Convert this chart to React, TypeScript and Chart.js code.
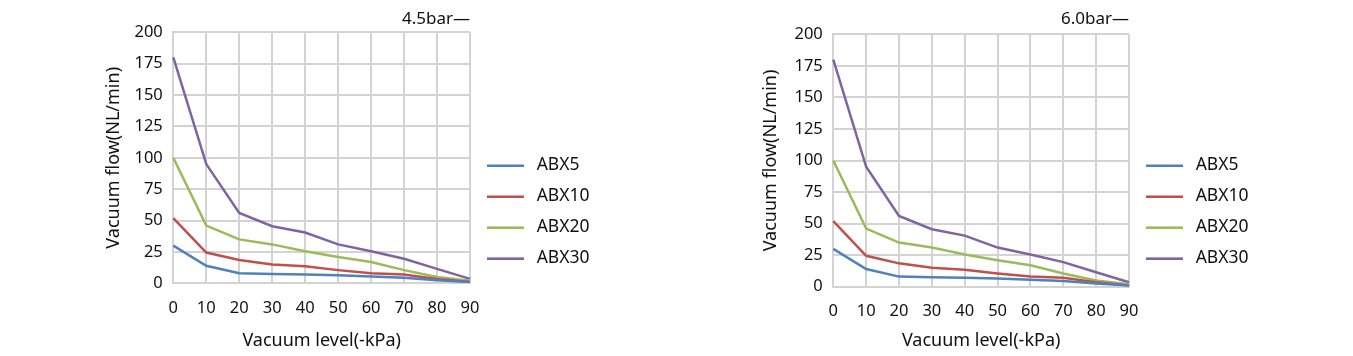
import React, { useEffect, useRef } from "react";
import { Chart, registerables } from "chart.js";

Chart.register(...registerables);

const categories = ["0", "10", "20", "30", "40", "50", "60", "70", "80", "90"];
const seriesNames = ["ABX5", "ABX10", "ABX20", "ABX30"];
const abx5 = [30, 14, 8, 7.5, 7, 6.5, 5.5, 4.5, 2.5, 1];
const abx10 = [52, 24.5, 18.5, 15, 13.5, 10.5, 8, 7, 3.5, 1];
const abx20 = [100, 46, 35, 31, 25.5, 21, 17, 10.5, 5, 2];
const abx30 = [180, 95, 56, 45.5, 40.5, 31, 25.5, 19.5, 11.5, 3.5];
const seriesColors = ["#4F81BD", "#C0504D", "#9BBB59", "#8064A2"];
const chartTitles = ["4.5bar\u2014", "6.0bar\u2014"];
const xTitle = "Vacuum level(-kPa)";
const yTitle = "Vacuum flow(NL/min)";

const FONT = "'Noto Sans', 'DejaVu Sans', sans-serif";
const TEXT = "#111111";
const GRID = "#d3d3d3";

type Geo = {
  canvasLeft: number;
  canvasWidth: number;
  areaLeft: number;
  areaRight: number;
  areaTop: number;
  areaBottom: number;
  yTitleX: number;
  titlePadTop: number;
};

const H = 356;

const geos: Geo[] = [
  { canvasLeft: 0, canvasWidth: 676, areaLeft: 173.3, areaRight: 470, areaTop: 32.3, areaBottom: 283.3, yTitleX: 114, titlePadTop: 8.5 },
  { canvasLeft: 676, canvasWidth: 677, areaLeft: 157.3, areaRight: 453, areaTop: 34.3, areaBottom: 286.7, yTitleX: 94.7, titlePadTop: 9 },
];

function swatch(color: string) {
  const c = document.createElement("canvas");
  c.width = 37;
  c.height = 3;
  const g = c.getContext("2d")!;
  g.fillStyle = color;
  g.fillRect(0, 0.5, 37, 2.5);
  return c;
}

function buildConfig(idx: number): any {
  const g = geos[idx];
  const values = [abx5, abx10, abx20, abx30];
  const legendFont = 17.5;
  const legendPad = 13.4;
  const legendMaxW = 120;
  const titleFont = 17;
  const titleLine = titleFont * 1.2;
  const layoutLeft = g.yTitleX - (4 + (18 * 1.2) / 2);
  const layoutRight = g.canvasWidth - g.areaRight - legendMaxW;
  const legendTitleSpace = 156.75 - g.areaTop - legendPad; // height of spacer
  return {
    type: "line",
    data: {
      labels: categories,
      datasets: seriesNames.map((name, i) => ({
        label: name,
        data: values[i],
        borderColor: seriesColors[i],
        backgroundColor: seriesColors[i],
        borderWidth: 2.5,
        pointRadius: 0,
        pointHoverRadius: 0,
        pointStyle: swatch(seriesColors[i]),
        tension: 0,
        fill: false,
      })),
    },
    options: {
      animation: false,
      responsive: false,
      maintainAspectRatio: false,
      devicePixelRatio: 1,
      layout: { padding: { left: layoutLeft, right: layoutRight, top: 0, bottom: 0 } },
      plugins: {
        tooltip: { enabled: false },
        title: {
          display: true,
          text: chartTitles[idx],
          align: "end",
          fullSize: false,
          color: TEXT,
          font: { family: FONT, size: titleFont, weight: "normal" },
          padding: { top: g.titlePadTop, bottom: g.areaTop - g.titlePadTop - titleLine },
        },
        legend: {
          display: true,
          position: "right",
          align: "start",
          fullSize: false,
          maxWidth: legendMaxW,
          title: {
            display: true,
            text: "",
            font: { size: 10 },
            padding: { top: legendTitleSpace - 12, bottom: 0 },
          },
          labels: {
            usePointStyle: true,
            pointStyleWidth: 44.5,
            padding: legendPad,
            color: TEXT,
            font: { family: FONT, size: legendFont },
          },
        },
      },
      scales: {
        x: {
          type: "category",
          offset: false,
          afterFit: (scale: any) => {
            scale.height = H - g.areaBottom;
          },
          grid: { display: true, color: GRID, lineWidth: 2, drawTicks: false, offset: false },
          border: { display: true, color: GRID, width: 2 },
          ticks: {
            color: TEXT,
            padding: 15,
            maxRotation: 0,
            autoSkip: false,
            font: { family: FONT, size: 16.5 },
          },
          title: {
            display: true,
            text: xTitle,
            color: TEXT,
            font: { family: FONT, size: 18 },
            padding: { top: 0, bottom: 4.7 },
          },
        },
        y: {
          type: "linear",
          min: 0,
          max: 200,
          afterFit: (scale: any) => {
            scale.width = g.areaLeft - layoutLeft;
          },
          grid: { display: true, color: GRID, lineWidth: 2, drawTicks: false },
          border: { display: true, color: GRID, width: 2 },
          ticks: {
            stepSize: 25,
            color: TEXT,
            padding: 10.5,
            font: { family: FONT, size: 16.5 },
          },
          title: {
            display: true,
            text: yTitle,
            color: TEXT,
            font: { family: FONT, size: 18 },
            padding: { top: 4, bottom: 4 },
          },
        },
      },
    },
  };
}

function ChartPanel({ idx }: { idx: number }) {
  const ref = useRef<HTMLCanvasElement>(null);
  useEffect(() => {
    if (!ref.current) return;
    const chart = new Chart(ref.current, buildConfig(idx));
    return () => chart.destroy();
  }, [idx]);
  const g = geos[idx];
  return (
    <canvas
      ref={ref}
      width={g.canvasWidth}
      height={H}
      style={{ position: "absolute", left: g.canvasLeft, top: 0, width: g.canvasWidth, height: H }}
    />
  );
}

export default function App() {
  return (
    <div style={{ position: "fixed", left: 0, top: 0, width: 1353, height: H, background: "#fff" }}>
      <ChartPanel idx={0} />
      <ChartPanel idx={1} />
    </div>
  );
}
